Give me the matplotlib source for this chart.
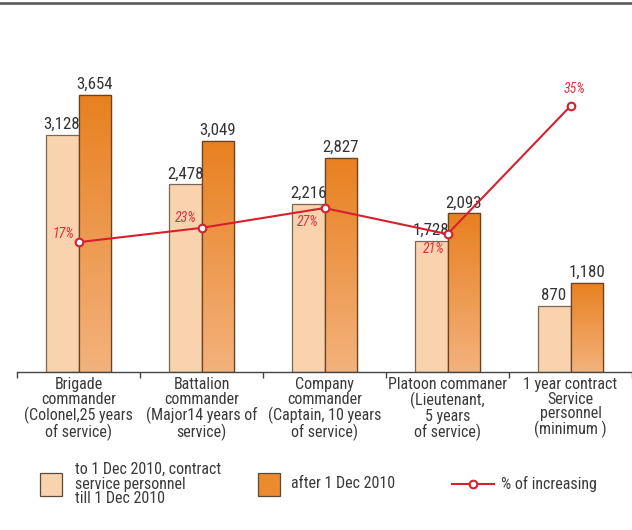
import numpy as np
import matplotlib
matplotlib.use("Agg")
import matplotlib.pyplot as plt
from matplotlib.lines import Line2D
from matplotlib.colors import LinearSegmentedColormap
from matplotlib.patches import Rectangle

plt.rcParams['font.family'] = ['Roboto Condensed', 'DejaVu Sans']

categories = [
    "Brigade\ncommander\n(Colonel,25 years\nof service)",
    "Battalion\ncommander\n(Major14 years of\nservice)",
    "Company\ncommander\n(Captain, 10 years\nof service)",
    "Platoon commaner\n(Lieutenant,\n5 years\nof service)",
    "1 year contract\nService\npersonnel\n(minimum )",
]
before = [3128, 2478, 2216, 1728, 870]
after = [3654, 3049, 2827, 2093, 1180]
pct = [17, 23, 27, 21, 35]
before_labels = ["3,128", "2,478", "2,216", "1,728", "870"]
after_labels = ["3,654", "3,049", "2,827", "2,093", "1,180"]
pct_labels = ["17%", "23%", "27%", "21%", "35%"]
legend_labels = ["to 1 Dec 2010, contract\nservice personnel\ntill 1 Dec 2010",
                 "after 1 Dec 2010", "% of increasing"]

W, H = 632, 530
fig = plt.figure(figsize=(W / 100, H / 100), dpi=100)

def px(x0, y0, x1, y1):
    # pixel box (top-left origin) -> figure fraction rect
    return [x0 / W, 1 - y1 / H, (x1 - x0) / W, (y1 - y0) / H]

ax = fig.add_axes(px(17, 30, 632, 372))
x = np.arange(len(categories))
bw = 0.268

light_c = "#F8D3AE"
dark_top = "#E8801F"
dark_bot = "#F3B27D"
edge_dark = "#6B4222"
edge_light = "#7A6656"
txt_c = "#3a3a3a"

b1 = ax.bar(x - bw / 2, before, bw, color=light_c, edgecolor=edge_light, linewidth=0.9, zorder=2)
b2 = ax.bar(x + bw / 2, after, bw, color=dark_top, edgecolor=edge_dark, linewidth=0.9, zorder=2)

cmap = LinearSegmentedColormap.from_list("g", [dark_bot, dark_top])
grad = np.linspace(0, 1, 256).reshape(-1, 1)
for p in b2:
    bb = p.get_bbox()
    im = ax.imshow(grad, extent=[bb.x0, bb.x1, bb.y0, bb.y1], origin="lower",
                   aspect="auto", cmap=cmap, zorder=2.1)
    im.set_clip_path(p)
    r = Rectangle((bb.x0, bb.y0), bb.width, bb.height, fill=False,
                  edgecolor=edge_dark, linewidth=0.9, zorder=2.2)
    ax.add_patch(r)

ax.set_xlim(-0.5, len(categories) - 0.5)
ax.set_ylim(0, 342 / 0.07581)

for xi, v, lab in zip(x, before, before_labels):
    ax.annotate(lab, (xi - bw / 2, v), xytext=(0, 2), textcoords="offset points",
                ha="center", va="bottom", fontsize=12.2, color="#333333")
for xi, v, lab in zip(x, after, after_labels):
    ax.annotate(lab, (xi + bw / 2, v), xytext=(0, 2), textcoords="offset points",
                ha="center", va="bottom", fontsize=12.2, color="#333333")

for s in ["top", "right", "left"]:
    ax.spines[s].set_visible(False)
ax.spines["bottom"].set_color("#444444")
ax.spines["bottom"].set_linewidth(1.0)
ax.set_yticks([])
ax.set_xticks(np.arange(len(categories) + 1) - 0.5)
ax.set_xticklabels([])
ax.tick_params(axis="x", direction="out", length=4, color="#444444", width=1.0)
for xi, lab in zip(x, categories):
    ax.text(xi, -0.014, lab, transform=ax.get_xaxis_transform(), ha="center", va="top",
            fontsize=11.5, color=txt_c, linespacing=0.98)

# percentage line on overlay axes with exponential-type scale
k = 0.15
lax = fig.add_axes(px(17, 30, 632, 372 - 120))
lax.set_xlim(ax.get_xlim())
lax.set_yscale("function", functions=(lambda v: np.exp(k * np.asarray(v)),
                                      lambda v: np.log(np.clip(np.asarray(v), 1e-9, None)) / k))
top_val = (342 - 120) / 0.766
lax.set_ylim(np.log(1e-4) / k, np.log(top_val) / k)
lax.axis("off")
red = "#D7202E"
lax.plot(x, pct, color=red, lw=1.5, marker="o", ms=5.5, mfc="white", mec=red, mew=1.5,
         zorder=5, clip_on=False)
offs = [(-11, 6), (-11, 7), (-12, -10), (-10, -11), (3, 12)]
for xi, v, lab, o in zip(x, pct, pct_labels, offs):
    lax.annotate(lab, (xi, v), xytext=o, textcoords="offset points",
                 ha="center", va="center", fontsize=10, color="#E03040", style="italic")

# top rule
fig.add_artist(Line2D([0, 1], [1 - 3 / H, 1 - 3 / H], color="#606060", lw=2))

# legend
lg = fig.add_axes([0, 0, 1, 1])
lg.set_xlim(0, W)
lg.set_ylim(H, 0)
lg.axis("off")
lg.add_patch(Rectangle((40, 473), 22, 23, facecolor=light_c, edgecolor="#5a4a3a", lw=0.9))
lg.text(75, 484, legend_labels[0], ha="left", va="center", fontsize=11.5, color=txt_c,
        linespacing=0.98)
lg.add_patch(Rectangle((258, 473), 22, 23, facecolor="#EC8A30", edgecolor="#5a4a3a", lw=0.9))
lg.text(291, 484, legend_labels[1], ha="left", va="center", fontsize=11.5, color=txt_c)
lg.plot([452, 494], [484, 484], color=red, lw=1.5)
lg.plot([473], [484], marker="o", ms=5.5, mfc="white", mec=red, mew=1.5)
lg.text(501, 484, legend_labels[2], ha="left", va="center", fontsize=11.5, color=txt_c)

fig.savefig("out.png", dpi=100)
